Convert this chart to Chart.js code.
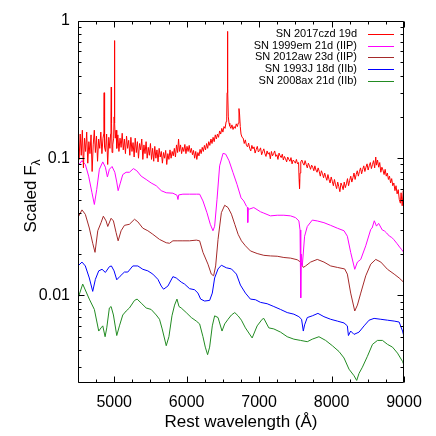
<!DOCTYPE html>
<html>
<head>
<meta charset="utf-8">
<title>Spectra comparison</title>
<script src="https://cdn.jsdelivr.net/npm/chart.js"></script>
<style>
  html, body { margin: 0; padding: 0; background: white; }
  #wrap { width: 436px; height: 436px; }
</style>
</head>
<body>
<div id="wrap"><canvas id="spec" width="436" height="436"></canvas></div>
<script>
// SN 2017czd 19d (noisy, with narrow emission lines)
const czdWave = [4500,4515,4530,4545,4560,4575,4590,4605,4620,4635,4650,4665,4680,4695,4710,4725,4740,4755,4770,4785,4800,4815,4830,4845,
  4855,4858,4861,4864,4870,4880,4895,4910,4925,4940,4950,4955,4959,4963,4970,4980,4992,4998,5003,5008,5015,5025,
  5035,5050,5065,5080,5095,5110,5125,5140,5155,5170,5185,5200,5215,5230,5245,5260,5275,5290,5305,5320,5335,5350,5365,5380,5395,
  5410,5425,5440,5455,5470,5485,5500,5515,5530,5545,5560,5575,5590,5605,5620,5635,5650,5665,5680,5695,5710,5725,5740,5755,5770,
  5785,5800,5815,5830,5845,5860,5875,5888,5900,5915,5930,5945,5960,5975,5990,6005,6020,6035,6050,6065,6080,6095,6110,6125,6140,
  6155,6170,6185,6200,6215,6230,6245,6260,6275,6290,6305,6320,6335,6350,6365,6380,6395,6410,6425,6440,6455,6470,6485,6500,6515,
  6530,6545,6553,6558,6563,6568,6575,6585,6595,6610,6625,6640,6655,6670,6685,6700,6712,6722,6730,6740,
  6750,6765,6780,6795,6810,6825,6840,6855,6870,6885,
  6900,6915,6930,6945,6960,6975,6990,7005,7020,7035,
  7050,7065,7080,7095,7110,7125,7140,7155,7170,7185,
  7200,7215,7230,7245,7260,7275,7290,7305,7320,7335,
  7350,7365,7380,7395,7410,7425,7440,7455,7470,7485,
  7500,7515,7530,7545,7552,7558,7565,7575,7590,7605,
  7620,7635,7650,7665,7680,7695,7710,7725,7740,7755,
  7770,7785,7800,7815,7830,7845,7860,7875,7890,7905,
  7920,7935,7950,7965,7980,7995,8010,8025,8040,8055,
  8070,8085,8100,8115,8130,8145,8160,8175,8190,8205,
  8220,8235,8250,8265,8280,8295,8310,8325,8340,8355,
  8370,8385,8400,8415,8430,8445,8460,8475,8490,8505,
  8520,8535,8550,8565,8580,8595,8610,8620,8635,8650,
  8665,8680,8695,8710,8725,8740,8755,8770,8785,8800,
  8815,8830,8845,8860,8875,8890,8905,8920,8935,8950,
  8960,8975,8990,9000];
const czdFlux = [0.135,0.098,0.150,0.105,0.160,0.085,0.140,0.112,0.155,0.092,0.132,0.108,0.148,0.080,0.125,0.160,0.110,0.145,0.095,0.138,0.118,0.155,0.108,0.140,
  0.150,0.200,0.300,0.170,0.120,0.112,0.150,0.090,0.142,0.118,0.150,0.200,0.330,0.180,0.110,0.125,0.140,0.200,0.720,0.180,0.140,0.160,
  0.118,0.148,0.112,0.140,0.120,0.152,0.115,0.138,0.108,0.145,0.118,0.135,0.105,0.142,0.112,0.130,0.102,0.140,0.110,0.132,0.100,0.128,0.115,0.138,0.098,
  0.125,0.108,0.132,0.100,0.120,0.105,0.128,0.098,0.118,0.095,0.122,0.100,0.115,0.094,0.118,0.102,0.112,0.092,0.110,0.100,0.114,0.090,0.108,0.098,0.115,
  0.100,0.112,0.104,0.118,0.102,0.125,0.110,0.138,0.112,0.125,0.108,0.120,0.112,0.126,0.108,0.122,0.112,0.124,0.110,0.118,0.106,0.114,0.100,0.112,0.098,
  0.110,0.104,0.116,0.108,0.120,0.112,0.124,0.115,0.128,0.118,0.132,0.124,0.138,0.128,0.142,0.132,0.148,0.138,0.150,0.142,0.158,0.150,0.165,0.155,0.170,
  0.165,0.185,0.200,0.300,0.840,0.320,0.200,0.180,0.172,0.165,0.175,0.162,0.170,0.165,0.178,0.170,0.180,0.230,0.210,0.170,
  0.150,0.142,0.140,0.128,0.136,0.124,0.121,0.129,0.118,0.113,
  0.124,0.117,0.121,0.109,0.116,0.122,0.111,0.114,0.119,0.106,
  0.112,0.117,0.108,0.103,0.113,0.107,0.110,0.099,0.112,0.104,
  0.108,0.113,0.103,0.106,0.098,0.109,0.104,0.101,0.107,0.097,
  0.103,0.099,0.094,0.102,0.098,0.095,0.101,0.091,0.097,0.095,
  0.092,0.098,0.091,0.093,0.070,0.060,0.078,0.094,0.097,0.092,
  0.089,0.096,0.090,0.085,0.092,0.088,0.083,0.089,0.086,0.081,
  0.088,0.082,0.079,0.085,0.080,0.074,0.081,0.077,0.072,0.078,
  0.073,0.069,0.076,0.070,0.066,0.073,0.068,0.063,0.070,0.064,
  0.060,0.067,0.062,0.057,0.066,0.063,0.059,0.067,0.061,0.065,
  0.071,0.063,0.069,0.074,0.067,0.072,0.078,0.070,0.076,0.081,
  0.074,0.080,0.085,0.077,0.083,0.088,0.080,0.086,0.091,0.082,
  0.088,0.093,0.084,0.090,0.096,0.085,0.102,0.089,0.097,0.086,
  0.093,0.079,0.086,0.082,0.076,0.083,0.074,0.078,0.070,0.074,
  0.066,0.071,0.063,0.066,0.058,0.063,0.055,0.059,0.050,0.047,
  0.056,0.045,0.058,0.052];

// SN 1999em 21d (IIP)
const emWave = [4500,4555,4601,4647,4693,4726,4758,4795,4842,4878,4906,4933,4970,5008,5035,5054,5081,5118,5164,5210,5265,5312,5372,5441,5510,5580,
  5649,5718,5810,5866,5880,5890,5948,6040,6133,6179,6225,6280,6326,6363,6386,6419,6455,6502,6539,6585,6640,6695,6751,6788,6825,6838,6843,6850,
  6862,6926,7019,7065,7157,7250,7342,7434,7503,7549,7565,7572,7577,7582,7596,7628,7665,7734,7803,7895,7988,8080,8172,8218,8264,8320,8357,8403,
  8472,8541,8560,8590,8620,8650,8700,8730,8760,8800,8830,8860,8900,8940,8970,9000];
const emFlux = [0.088,0.096,0.090,0.074,0.056,0.046,0.059,0.083,0.094,0.086,0.073,0.083,0.087,0.079,0.067,0.058,0.065,0.076,0.079,0.079,0.084,0.081,0.074,0.070,0.066,0.063,
  0.058,0.056,0.0556,0.0537,0.050,0.054,0.0547,0.0547,0.0547,0.0547,0.0488,0.0401,0.033,0.0296,0.0319,0.0502,0.088,0.1085,0.107,0.0958,0.0785,0.0645,0.0514,0.0488,0.0447,0.044,0.034,0.043,
  0.0425,0.0437,0.0407,0.0398,0.038,0.0384,0.0384,0.038,0.0369,0.0349,0.030,0.0256,0.0096,0.020,0.0164,0.027,0.0318,0.0354,0.0349,0.0339,0.0324,0.0309,0.0296,0.027,0.0206,0.0155,0.0175,0.0183,
  0.023,0.0303,0.031,0.035,0.032,0.0335,0.030,0.0295,0.0285,0.027,0.0265,0.0255,0.024,0.0225,0.0215,0.0205];

// SN 2012aw 23d (IIP)
const awWave = [4500,4555,4601,4656,4703,4735,4773,4818,4850,4888,4911,4957,4989,5026,5054,5095,5141,5210,5280,5326,5395,5464,5533,5625,5718,5764,
  5810,5879,5948,6040,6133,6179,6225,6294,6340,6372,6400,6433,6479,6525,6571,6618,6664,6710,6756,6811,6880,6973,7065,7157,7250,7342,7434,7526,
  7572,7610,7642,7711,7803,7895,7988,8080,8181,8218,8264,8320,8357,8403,8472,8541,8610,8680,8772,8864,8933,9000];
const awFlux = [0.037,0.042,0.039,0.031,0.024,0.0206,0.0296,0.0339,0.0378,0.0349,0.0318,0.0365,0.0349,0.0287,0.025,0.0296,0.0324,0.033,0.0359,0.0344,0.0309,0.0296,0.0279,0.0256,0.0242,0.024,
  0.025,0.025,0.025,0.025,0.0253,0.025,0.0206,0.0169,0.0143,0.0139,0.0164,0.0256,0.0401,0.0454,0.0437,0.0391,0.033,0.0279,0.025,0.023,0.0211,0.0202,0.0196,0.0194,0.0193,0.0189,0.0187,0.0182,
  0.0175,0.016,0.0164,0.0175,0.0183,0.0175,0.0164,0.016,0.0156,0.0143,0.0104,0.0077,0.0085,0.0104,0.0139,0.0169,0.0183,0.0175,0.0155,0.0143,0.0134,0.0124];

// SN 1993J 18d (IIb)
const jWave = [4500,4555,4601,4656,4703,4740,4786,4832,4878,4933,4961,4998,5035,5081,5141,5187,5257,5326,5395,5464,5533,5603,5649,5681,5741,5810,
  5856,5925,5971,6040,6109,6156,6193,6248,6317,6354,6386,6433,6479,6548,6618,6687,6742,6811,6880,6950,7019,7111,7203,7296,7388,7480,7549,7586,
  7610,7628,7665,7734,7812,7895,7988,8080,8172,8218,8233,8264,8310,8379,8449,8518,8587,8680,8772,8864,8933,8980,9000];
const jFlux = [0.0164,0.0175,0.0164,0.0134,0.0107,0.0131,0.0151,0.0155,0.0147,0.0162,0.0164,0.0151,0.013,0.0138,0.0148,0.0148,0.0164,0.0164,0.0155,0.0151,0.0143,0.0131,0.0117,0.0111,0.0117,0.0137,
  0.0134,0.0125,0.0121,0.0112,0.011,0.0104,0.0094,0.0091,0.0092,0.0104,0.0134,0.0156,0.0166,0.0159,0.0156,0.0143,0.0119,0.0104,0.0094,0.0093,0.0089,0.0087,0.0083,0.0079,0.0075,0.0073,0.007,0.0067,
  0.0055,0.0061,0.0069,0.0071,0.0074,0.007,0.0067,0.0065,0.0063,0.006,0.0051,0.0055,0.0052,0.0054,0.006,0.0066,0.0068,0.0067,0.0066,0.0065,0.0064,0.0055,0.005];

// SN 2008ax 21d (IIb)
const axWave = [4500,4565,4656,4726,4786,4818,4842,4874,4897,4933,4957,4989,5035,5072,5118,5165,5210,5280,5316,5372,5441,5510,5580,5625,5662,5718,
  5755,5797,5833,5866,5894,5925,5994,6064,6133,6179,6225,6257,6289,6317,6354,6386,6433,6488,6525,6571,6618,6664,6710,6756,6811,6904,6973,7042,
  7065,7134,7203,7296,7388,7480,7572,7665,7734,7826,7918,8011,8103,8172,8241,8310,8347,8379,8426,8495,8565,8634,8703,8772,8841,8910,8980,9000];
const axFlux = [0.0095,0.0121,0.0094,0.0079,0.0055,0.0058,0.006,0.005,0.0058,0.0081,0.0083,0.0072,0.0051,0.006,0.0072,0.0077,0.0081,0.0092,0.0094,0.0088,0.0081,0.0079,0.0072,0.0067,0.0057,0.0043,
  0.005,0.0071,0.0085,0.0094,0.0083,0.0081,0.0075,0.0069,0.0065,0.0062,0.005,0.0042,0.0037,0.0042,0.006,0.0071,0.0069,0.0055,0.0062,0.0067,0.0072,0.0075,0.0071,0.0066,0.0058,0.0049,0.006,0.0067,
  0.0068,0.0058,0.0057,0.0054,0.005,0.0048,0.0047,0.0046,0.0048,0.005,0.0047,0.0043,0.0039,0.0035,0.0029,0.0026,0.0024,0.0027,0.003,0.0036,0.0044,0.0047,0.0047,0.0044,0.0042,0.0038,0.0033,0.0031];

const seriesNames = ['SN 2017czd 19d', 'SN 1999em 21d (IIP)', 'SN 2012aw 23d (IIP)', 'SN 1993J 18d (IIb)', 'SN 2008ax 21d (IIb)'];
const seriesColors = ['#ff0000', '#ff00ff', '#a52a2a', '#0000ff', '#228b22'];
const seriesWaves = [czdWave, emWave, awWave, jWave, axWave];
const seriesFluxes = [czdFlux, emFlux, awFlux, jFlux, axFlux];

const xTicks = [5000, 6000, 7000, 8000, 9000];
const yTicks = [0.01, 0.1, 1];

const FONT = '"Liberation Sans", Arial, Helvetica, sans-serif';
Chart.defaults.font.family = FONT;
Chart.defaults.color = '#000';

const datasets = seriesNames.map((name, k) => ({
  label: name,
  data: seriesWaves[k].map((w, i) => ({ x: w, y: seriesFluxes[k][i] })),
  borderColor: seriesColors[k],
  borderWidth: 1,
  pointRadius: 0,
  tension: 0,
  fill: false
}));

// gnuplot-like frame with inward ticks, y title and legend
const framePlugin = {
  id: 'frame',
  afterDraw(chart) {
    const { ctx, chartArea: a, scales } = chart;
    const x = scales.x, y = scales.y;
    const L = Math.round(a.left) + 0.5, R = Math.round(a.right) - 0.5;
    const T = Math.round(a.top) + 0.5, B = Math.round(a.bottom) - 0.5;
    ctx.save();
    ctx.strokeStyle = '#000';
    ctx.lineWidth = 1;
    ctx.beginPath();
    ctx.rect(L, T, R - L, B - T);
    for (let v = 4500; v <= 9000; v += 250) {
      const px = Math.round(x.getPixelForValue(v)) + 0.5;
      const len = v % 1000 === 0 ? 6 : 3;
      ctx.moveTo(px, B); ctx.lineTo(px, B - len);
      ctx.moveTo(px, T); ctx.lineTo(px, T + len);
    }
    for (const dec of [0.001, 0.01, 0.1]) {
      for (let k = 1; k <= 9; k++) {
        const v = k * dec;
        if (v < y.min || v > y.max) continue;
        const py = Math.round(y.getPixelForValue(v)) + 0.5;
        const len = k === 1 ? 6 : 3;
        ctx.moveTo(L, py); ctx.lineTo(L + len, py);
        ctx.moveTo(R, py); ctx.lineTo(R - len, py);
      }
    }
    const pt = Math.round(y.getPixelForValue(1)) + 0.5;
    ctx.moveTo(L, pt); ctx.lineTo(L + 6, pt);
    ctx.moveTo(R, pt); ctx.lineTo(R - 6, pt);
    ctx.stroke();

    // y axis title with subscript lambda
    ctx.fillStyle = '#000';
    ctx.translate(36, 196);
    ctx.rotate(-Math.PI / 2);
    ctx.font = '17px ' + FONT;
    const main = 'Scaled F';
    const wMain = ctx.measureText(main).width;
    ctx.font = '12px ' + FONT;
    const wSub = ctx.measureText('λ').width;
    const start = -(wMain + wSub) / 2;
    ctx.textAlign = 'left';
    ctx.textBaseline = 'alphabetic';
    ctx.font = '17px ' + FONT;
    ctx.fillText(main, start, 0);
    ctx.font = '12px ' + FONT;
    ctx.fillText('λ', start + wMain, 4);
    ctx.restore();

    // legend: text right-aligned, line sample on the right
    ctx.save();
    ctx.font = '11px ' + FONT;
    ctx.textAlign = 'right';
    ctx.textBaseline = 'middle';
    ctx.fillStyle = '#000';
    seriesNames.forEach((name, k) => {
      const ry = 34 + k * 11.7;
      ctx.fillText(name, 357, ry);
      ctx.strokeStyle = seriesColors[k];
      ctx.beginPath();
      ctx.moveTo(368, Math.round(ry) + 0.5);
      ctx.lineTo(394, Math.round(ry) + 0.5);
      ctx.stroke();
    });
    ctx.restore();
  }
};

new Chart(document.getElementById('spec'), {
  type: 'line',
  data: { datasets },
  options: {
    responsive: false,
    animation: false,
    layout: { padding: { left: 0, right: 32, top: 21, bottom: 0 } },
    plugins: { legend: { display: false }, tooltip: { enabled: false } },
    scales: {
      x: {
        type: 'linear',
        min: 4500,
        max: 9000,
        grid: { display: false, drawTicks: false },
        border: { display: false },
        afterBuildTicks: s => { s.ticks = xTicks.map(v => ({ value: v })); },
        afterFit: s => { s.height = 53; },
        ticks: { padding: 10, font: { size: 16 }, maxRotation: 0, autoSkip: false, callback: v => String(v) },
        title: { display: true, text: 'Rest wavelength (Å)', font: { size: 17 }, padding: { top: 0, bottom: 3 } }
      },
      y: {
        type: 'logarithmic',
        min: 0.0023,
        max: 1,
        grid: { display: false, drawTicks: false },
        border: { display: false },
        afterBuildTicks: s => { s.ticks = yTicks.map(v => ({ value: v })); },
        afterFit: s => { s.width = 78; },
        ticks: { padding: 8, font: { size: 16 }, autoSkip: false, callback: v => String(v) }
      }
    }
  },
  plugins: [framePlugin]
});
</script>
</body>
</html>
